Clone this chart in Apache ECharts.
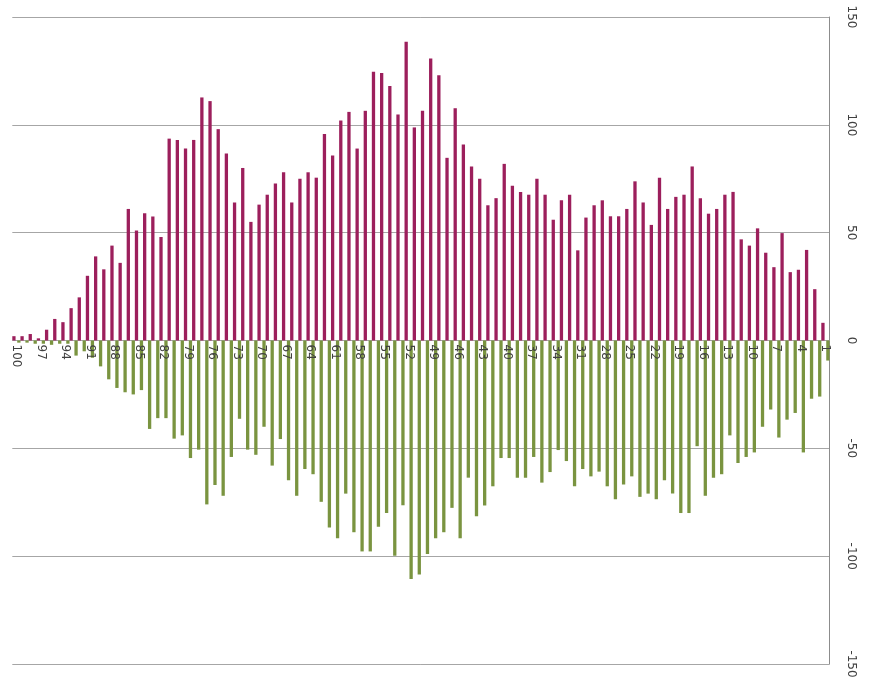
<!DOCTYPE html>
<html>
<head>
<meta charset="utf-8">
<script src="https://cdn.jsdelivr.net/npm/echarts@6/dist/echarts.min.js"></script>
<style>
html,body{margin:0;padding:0;background:#fff;}
#chart{width:870px;height:689px;}
</style>
</head>
<body>
<div id="chart"></div>
<script>
const categories = ['100','99','98','97','96','95','94','93','92','91','90','89','88','87','86','85','84','83','82','81',
'80','79','78','77','76','75','74','73','72','71','70','69','68','67','66','65','64','63','62','61',
'60','59','58','57','56','55','54','53','52','51','50','49','48','47','46','45','44','43','42','41',
'40','39','38','37','36','35','34','33','32','31','30','29','28','27','26','25','24','23','22','21',
'20','19','18','17','16','15','14','13','12','11','10','9','8','7','6','5','4','3','2','1'];

const positiveValues = [2,2,3,1,5,10,8.5,15,20,30,39,33,44,36,61,51,59,57.5,48,93.6,
93,89,93,112.7,111,98,86.7,64,80,55,63,67.6,72.8,78,64,75,78,75.5,95.8,85.8,
102,106,89,106.5,124.6,124,118,104.8,138.5,98.8,106.5,130.8,123,84.7,107.7,90.9,80.7,75,62.7,66,
81.9,71.8,68.9,67.6,75,67.6,56,65,67.6,41.8,57,62.7,65,57.6,57.6,61,73.8,64,53.6,75.5,
61,66.6,67.6,80.7,66,58.8,61,67.6,68.9,46.9,44,52,40.7,34,49.8,31.7,32.8,42,23.8,8.2];

const negativeValues = [-1,-1,-1.5,-1.5,-2,-1.5,-1.5,-7,-5,-8,-12,-18,-22,-24,-25,-23,-41,-36,-36,-45.5,
-44,-54.5,-50.6,-76,-67,-72,-54,-36.3,-50.6,-53,-40,-58,-45.7,-64.8,-72,-59.6,-62,-74.8,-86.7,-91.7,
-71,-88.9,-97.8,-97.8,-86.4,-80,-99.8,-76.4,-110.6,-108.5,-99,-91.7,-88.9,-77.6,-91.7,-63.6,-81.5,-76.5,-67.6,-54.5,
-54.5,-63.6,-63.6,-54,-65.9,-61,-50.8,-55.9,-67.6,-59.6,-63,-60.8,-67.6,-73.6,-66.8,-63,-72.5,-71,-73.6,-64.8,
-71,-80,-80,-49,-72,-63.6,-62,-44,-56.8,-54,-51.9,-40,-32,-45,-36.7,-33.6,-51.9,-27,-26,-9.3];

const valueTicks = { min: -150, max: 150, interval: 50 };

const gridTop = 17, gridBottom = 25, chartH = 689;
const plotH = chartH - gridTop - gridBottom;
// move category axis up to the value-axis zero line
const zeroOffset = -plotH * (0 - valueTicks.min) / (valueTicks.max - valueTicks.min);

const chart = echarts.init(document.getElementById('chart'), null, { renderer: 'canvas' });
chart.setOption({
  animation: false,
  backgroundColor: '#ffffff',
  grid: { left: 12.3, right: 40.5, top: gridTop, bottom: gridBottom, containLabel: false },
  xAxis: {
    type: 'category',
    data: categories,
    boundaryGap: true,
    offset: zeroOffset,
    axisLine: { show: false, onZero: false },
    axisTick: { show: false },
    axisLabel: {
      interval: 2,
      rotate: -90,
      margin: 4,
      color: '#404040',
      fontSize: 12,
      fontFamily: 'DejaVu Sans'
    },
    splitLine: { show: false },
    z: 10
  },
  yAxis: {
    type: 'value',
    position: 'right',
    min: valueTicks.min,
    max: valueTicks.max,
    interval: valueTicks.interval,
    axisLine: { show: true, lineStyle: { color: '#8c8c8c', width: 1 } },
    axisTick: { show: false },
    axisLabel: {
      rotate: -90,
      margin: 16,
      color: '#404040',
      fontSize: 12,
      fontFamily: 'DejaVu Sans'
    },
    splitLine: { show: true, lineStyle: { color: '#a6a6a6', width: 1 } }
  },
  series: [
    {
      name: 'positive',
      type: 'bar',
      data: positiveValues,
      barWidth: 3.3,
      barGap: '50%',
      itemStyle: { color: '#9c1f5c' },
      z: 3
    },
    {
      name: 'negative',
      type: 'bar',
      data: negativeValues,
      barWidth: 3.3,
      barGap: '50%',
      itemStyle: { color: '#7a9440' },
      z: 3
    }
  ]
});
</script>
</body>
</html>
